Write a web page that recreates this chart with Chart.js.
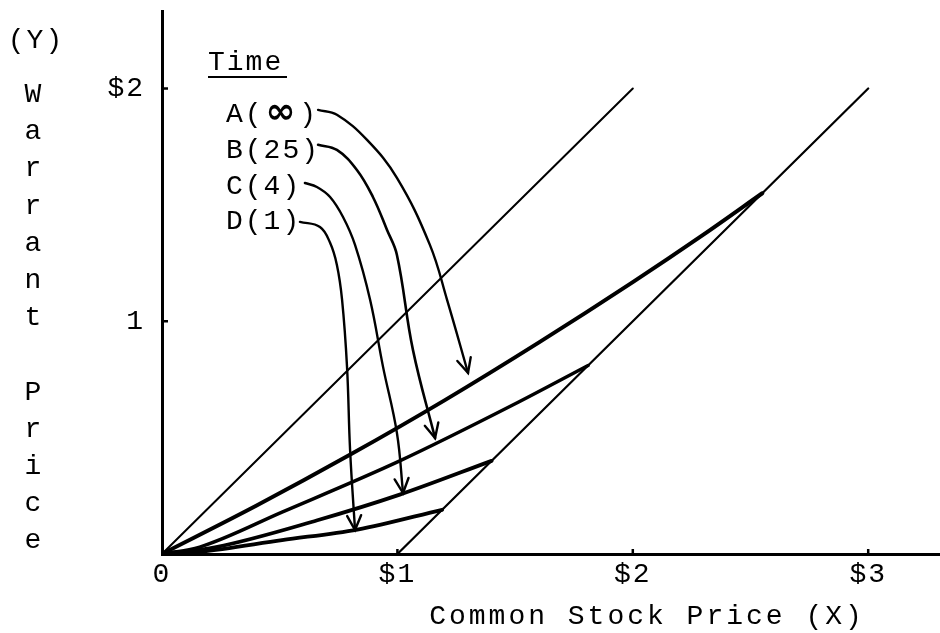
<!DOCTYPE html>
<html>
<head>
<meta charset="utf-8">
<script src="https://cdn.jsdelivr.net/npm/chart.js@4.4.1/dist/chart.umd.min.js"></script>
<style>
  html, body { margin: 0; padding: 0; background: #fff; }
  canvas { display: block; }
</style>
</head>
<body>
<canvas id="warrantChart" width="940" height="633"></canvas>
<script>
// Warrant price (Y) against common stock price (X), with price curves
// for several times to expiration.
const FONT = '"Liberation Mono", "DejaVu Sans Mono", monospace';

// Axis ticks
const xTickValues = [0, 1, 2, 3];
const xTickLabels = ['0', '$1', '$2', '$3'];
const yTickValues = [1, 2];
const yTickLabels = ['1', '$2'];

// Upper bound Y = X and lower bound Y = X - 1
const upperLineX = [0, 2];
const upperLineY = [0, 2];
const lowerLineX = [1, 3];
const lowerLineY = [0, 2];

// Warrant price curves, time to expiration: A (infinite), B (25), C (4), D (1)
const curveAX = [0, 0.40, 0.80, 1.20, 1.60, 2.00, 2.30, 2.55];
const curveAY = [0, 0.207, 0.427, 0.66, 0.908, 1.168, 1.372, 1.55];
const curveBX = [0, 0.16, 0.51, 1.01, 1.49, 1.81];
const curveBY = [0, 0.03, 0.18, 0.40, 0.64, 0.81];
const curveCX = [0, 0.23, 0.66, 1.01, 1.40];
const curveCY = [0, 0.03, 0.145, 0.255, 0.40];
const curveDX = [0, 0.16, 0.51, 0.83, 1.19];
const curveDY = [0, 0.01, 0.06, 0.105, 0.19];

// Pointer arrows from each time label down to its curve
const arrowAX = [0.663, 0.743, 0.871, 0.998, 1.138, 1.211, 1.300];
const arrowAY = [1.908, 1.887, 1.779, 1.616, 1.328, 1.092, 0.778];
const arrowBX = [0.663, 0.743, 0.828, 0.896, 0.956, 0.998, 1.066, 1.160];
const arrowBY = [1.758, 1.736, 1.650, 1.534, 1.392, 1.285, 0.877, 0.498];
const arrowCX = [0.607, 0.658, 0.714, 0.769, 0.820, 0.884, 0.939, 0.998, 1.024];
const arrowCY = [1.594, 1.577, 1.534, 1.448, 1.328, 1.092, 0.804, 0.520, 0.262];
const arrowDX = [0.586, 0.671, 0.714, 0.743, 0.765, 0.786, 0.799, 0.820];
const arrowDY = [1.427, 1.405, 1.337, 1.242, 1.092, 0.804, 0.447, 0.103];

// Label texts
const timeHeading = 'Time';
const timeLabels = [['A(', '\u221E', ')'], ['B(25)'], ['C(4)'], ['D(1)']];
const yTitleTop = '(Y)';
const yTitleWord = 'Warrant Price';
const xTitle = 'Common Stock Price (X)';

const zip = (xs, ys) => xs.map((v, i) => ({ x: v, y: ys[i] }));

function lineSet(xs, ys, width, tension, isArrow) {
  return {
    data: zip(xs, ys),
    borderColor: '#000',
    borderWidth: width,
    pointRadius: 0,
    fill: false,
    tension: tension,
    borderCapStyle: 'round',
    borderJoinStyle: 'round',
    isArrow: !!isArrow
  };
}

const datasets = [
  lineSet(upperLineX, upperLineY, 2, 0),
  lineSet(lowerLineX, lowerLineY, 2.2, 0),
  Object.assign(lineSet(curveAX, curveAY, 4, 0), { cubicInterpolationMode: 'monotone' }),
  Object.assign(lineSet(curveBX, curveBY, 3.4, 0), { cubicInterpolationMode: 'monotone' }),
  Object.assign(lineSet(curveCX, curveCY, 3.8, 0), { cubicInterpolationMode: 'monotone' }),
  Object.assign(lineSet(curveDX, curveDY, 3.8, 0), { cubicInterpolationMode: 'monotone' }),
  lineSet(arrowAX, arrowAY, 2.4, 0.4, true),
  lineSet(arrowBX, arrowBY, 2.6, 0.4, true),
  lineSet(arrowCX, arrowCY, 2.4, 0.4, true),
  lineSet(arrowDX, arrowDY, 2.4, 0.4, true)
];

// Arrowheads, tick marks and the typed labels
const annotate = {
  id: 'annotate',
  beforeDraw(chart) {
    chart.ctx.letterSpacing = '2px';
  },
  afterDatasetsDraw(chart) {
    const ctx = chart.ctx;
    ctx.save();
    ctx.strokeStyle = '#000';
    ctx.lineWidth = 2.4;
    ctx.lineCap = 'round';
    chart.data.datasets.forEach((ds, i) => {
      if (!ds.isArrow) return;
      const pts = chart.getDatasetMeta(i).data;
      const tip = pts[pts.length - 1];
      const prev = pts[pts.length - 2];
      const fx = (tip.cp1x !== undefined) ? tip.cp1x : prev.x;
      const fy = (tip.cp1y !== undefined) ? tip.cp1y : prev.y;
      const ang = Math.atan2(tip.y - fy, tip.x - fx);
      const len = 16, spread = 0.45;
      ctx.beginPath();
      ctx.moveTo(tip.x - len * Math.cos(ang - spread), tip.y - len * Math.sin(ang - spread));
      ctx.lineTo(tip.x, tip.y);
      ctx.lineTo(tip.x - len * Math.cos(ang + spread), tip.y - len * Math.sin(ang + spread));
      ctx.stroke();
    });
    ctx.restore();
  },
  afterDraw(chart) {
    const { ctx, scales: { x, y } } = chart;
    ctx.save();
    ctx.fillStyle = '#000';
    ctx.strokeStyle = '#000';

    // small inside tick marks
    ctx.lineWidth = 2.5;
    yTickValues.forEach(v => {
      const py = y.getPixelForValue(v);
      ctx.beginPath(); ctx.moveTo(x.left, py); ctx.lineTo(x.left + 6, py); ctx.stroke();
    });
    xTickValues.slice(1).forEach(v => {
      const px = x.getPixelForValue(v);
      ctx.beginPath(); ctx.moveTo(px, y.bottom); ctx.lineTo(px, y.bottom - 5); ctx.stroke();
    });

    ctx.font = '28px ' + FONT;
    ctx.letterSpacing = '2px';
    ctx.textBaseline = 'alphabetic';

    // vertical y-axis title, one letter per typed line
    ctx.textAlign = 'center';
    ctx.fillText(yTitleTop, 36, 48);
    yTitleWord.split('').forEach((ch, i) => {
      if (ch !== ' ') ctx.fillText(ch, 34, 102 + 37.2 * i);
    });

    // "Time" heading, underlined
    ctx.textAlign = 'left';
    ctx.fillText(timeHeading, 208, 70);
    ctx.lineWidth = 2;
    ctx.beginPath(); ctx.moveTo(208, 77); ctx.lineTo(287, 77); ctx.stroke();

    // A(∞), B(25), C(4), D(1)
    const cell = ctx.measureText('B(25)').width / 5;
    const baselines = [122, 158, 194, 229];
    timeLabels.forEach((parts, i) => {
      const bx = 226, by = baselines[i];
      ctx.font = '28px ' + FONT;
      ctx.textAlign = 'left';
      if (parts.length === 1) {
        ctx.fillText(parts[0], bx, by);
      } else {
        ctx.fillText(parts[0], bx, by);
        ctx.font = 'bold 36px "DejaVu Sans", sans-serif';
        ctx.letterSpacing = '0px';
        ctx.textAlign = 'center';
        ctx.fillText(parts[1], bx + cell * 3 - 2, by + 1);
        ctx.letterSpacing = '2px';
        ctx.textAlign = 'left';
        ctx.font = '28px ' + FONT;
        ctx.fillText(parts[2], bx + cell * 4 - 2, by);
      }
    });

    // x-axis title
    ctx.font = '28px ' + FONT;
    ctx.letterSpacing = '3px';
    ctx.textAlign = 'center';
    ctx.fillText(xTitle, 647, 624);
    ctx.restore();
  }
};

new Chart(document.getElementById('warrantChart'), {
  type: 'line',
  data: { datasets },
  plugins: [annotate],
  options: {
    responsive: false,
    animation: false,
    devicePixelRatio: 1,
    layout: { padding: { top: 11, right: 0, left: 0, bottom: 0 } },
    plugins: { legend: { display: false }, tooltip: { enabled: false } },
    scales: {
      x: {
        type: 'linear',
        min: 0,
        max: 3.305,
        afterBuildTicks: s => { s.ticks = xTickValues.map(v => ({ value: v })); },
        afterFit: s => { s.height = 79; s.paddingLeft = 0; s.paddingRight = 0; },
        grid: { display: true, drawOnChartArea: false, drawTicks: false, color: 'rgba(0,0,0,0)' },
        border: { display: true, color: '#000', width: 3 },
        ticks: {
          color: '#000',
          font: { family: FONT, size: 28 },
          padding: 4,
          maxRotation: 0,
          autoSkip: false,
          callback: (v, i) => xTickLabels[i]
        }
      },
      y: {
        type: 'linear',
        min: 0,
        max: 2.333,
        afterBuildTicks: s => { s.ticks = yTickValues.map(v => ({ value: v })); },
        afterFit: s => { s.width = 162; s.paddingTop = 0; s.paddingBottom = 0; },
        grid: { display: true, drawOnChartArea: false, drawTicks: false, color: 'rgba(0,0,0,0)' },
        border: { display: true, color: '#000', width: 3 },
        ticks: {
          color: '#000',
          font: { family: FONT, size: 28 },
          padding: 17,
          autoSkip: false,
          callback: (v, i) => yTickLabels[i]
        }
      }
    }
  }
});
</script>
</body>
</html>
